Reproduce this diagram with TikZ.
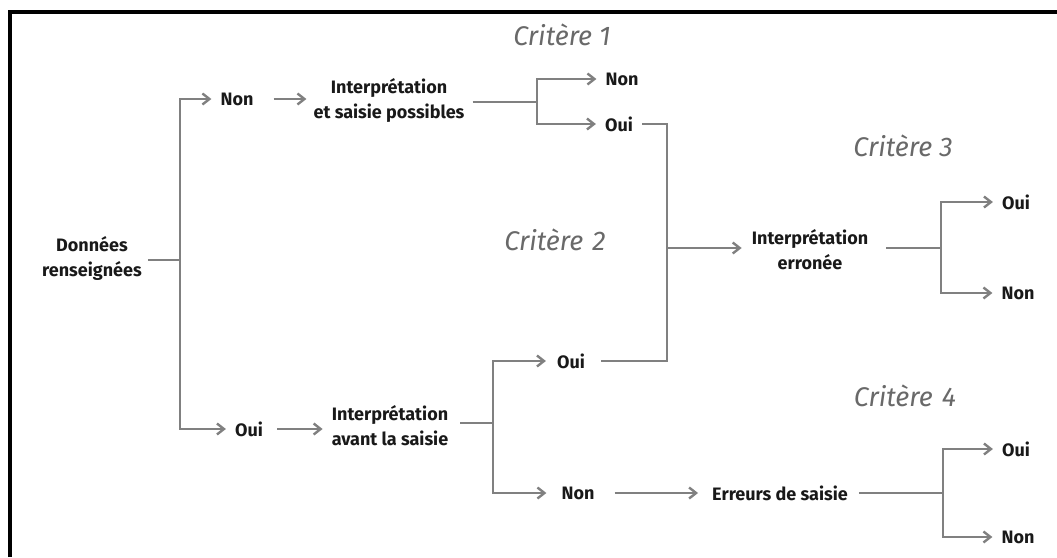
\documentclass[tikz,border=0pt]{standalone}
\usepackage{fontspec}
\setmainfont{Fira Sans}
\usetikzlibrary{arrows.meta}
\definecolor{linegray}{RGB}{128,128,128}
\definecolor{critgray}{RGB}{105,105,105}
\definecolor{txt}{RGB}{25,25,25}
\begin{document}
\begin{tikzpicture}[x=1pt,y=-1pt,
  lbl/.style={font=\bfseries\fontsize{18}{25}\selectfont, inner sep=0pt, align=center, text=txt},
  crit/.style={font=\itshape\fontsize{27}{30}\selectfont, inner sep=0pt, text=critgray},
  ln/.style={draw=linegray, line width=2.4pt},
  arr/.style={ln, -{Straight Barb[length=7pt,width=11pt]}}]
\useasboundingbox (0,0) rectangle (1057,557);
% frame
\draw[line width=4pt] (10,557) -- (10,11.5) -- (1057,11.5);
% texts
\node[lbl] (don) at (92,258) {Données\\renseignées};
\node[lbl] (n1) at (237,99) {Non};
\node[lbl] (ip) at (389,100) {Interprétation\\et saisie possibles};
\node[lbl] (c1non) at (622,79) {Non};
\node[lbl] (c1oui) at (619,124) {Oui};
\node[lbl] (o1) at (249,429) {Oui};
\node[lbl] (ias) at (390,426) {Interprétation\\avant la saisie};
\node[lbl] (c2oui) at (571,361) {Oui};
\node[lbl] (c2non) at (578,493) {Non};
\node[lbl] (ie) at (810,250) {Interprétation\\erronée};
\node[lbl] (c3oui) at (1016,202) {Oui};
\node[lbl] (c3non) at (1018,293) {Non};
\node[lbl] (es) at (780,493) {Erreurs de saisie};
\node[lbl] (c4oui) at (1016,449) {Oui};
\node[lbl] (c4non) at (1018,537) {Non};
\node[crit] (k1) at (562,35) {Critère 1};
\node[crit] (k2) at (555,240) {Critère\,\,2};
\node[crit] (k3) at (903,146) {Critère 3};
\node[crit] (k4) at (905,396) {Critère\,\,4};
% junctions
\coordinate (j0) at (180,260);
\coordinate (j1) at (537,102);
\coordinate (j2) at (667,248);
\coordinate (j3) at (941,248);
\coordinate (j4) at (493,423);
\coordinate (j5) at (943,493);
% connectors
\draw[ln, shorten <=6pt] (don.east |- j0) -- (j0);
\draw[arr, shorten >=9pt] (j0) |- (n1.west);
\draw[arr, shorten >=9pt] (j0) |- (o1.west);
\draw[arr, shorten <=20pt, shorten >=7pt] (n1.east) -- (ip.west |- n1.east);
\draw[ln, shorten <=8pt] (ip.east |- j1) -- (j1);
\draw[arr, shorten >=9pt] (j1) |- (c1non.west);
\draw[arr, shorten >=9pt] (j1) |- (c1oui.west);
\draw[ln, shorten <=9pt] (c1oui.east) -| (j2);
\draw[ln, shorten <=16pt] (c2oui.east) -| (j2);
\draw[arr, shorten >=10pt] (j2) -- (ie.west |- j2);
\draw[ln, shorten <=18pt] (ie.east |- j3) -- (j3);
\draw[arr, shorten >=9pt] (j3) |- (c3oui.west);
\draw[arr, shorten >=9pt] (j3) |- (c3non.west);
\draw[arr, shorten <=14pt, shorten >=9pt] (o1.east) -- (ias.west |- o1.east);
\draw[ln, shorten <=12pt] (ias.east |- j4) -- (j4);
\draw[arr, shorten >=11pt] (j4) |- (c2oui.west);
\draw[arr, shorten >=15pt] (j4) |- (c2non.west);
\draw[arr, shorten <=20pt, shorten >=14pt] (c2non.east) -- (es.west);
\draw[ln, shorten <=11pt] (es.east) -- (j5);
\draw[arr, shorten >=9pt] (j5) |- (c4oui.west);
\draw[arr, shorten >=9pt] (j5) |- (c4non.west);
\end{tikzpicture}
\end{document}
